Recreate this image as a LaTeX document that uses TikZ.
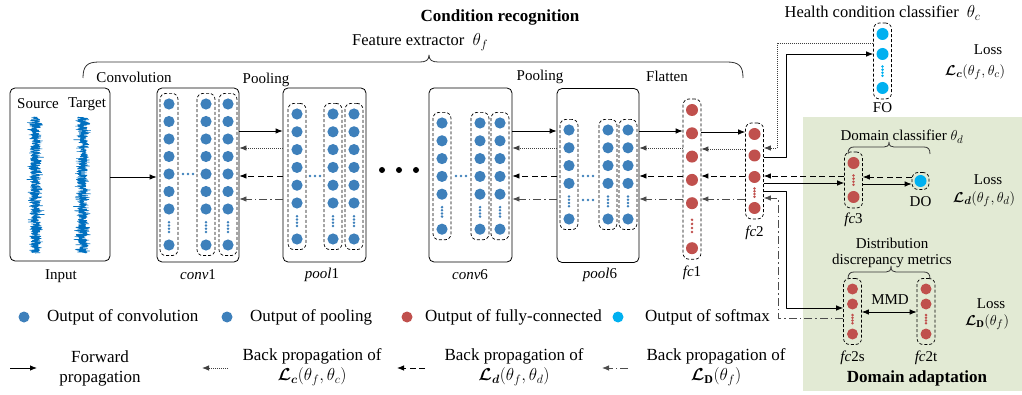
\documentclass[tikz,border=0pt]{standalone}
\usepackage{amsmath}
\usepackage{fontspec}
\setmainfont{Liberation Serif}
\usetikzlibrary{arrows.meta}

\definecolor{nnblue}{RGB}{62,128,187}
\definecolor{nnred}{RGB}{192,80,77}
\definecolor{nncyan}{RGB}{0,176,240}
\definecolor{wavec}{RGB}{0,112,192}
\definecolor{dagreen}{RGB}{226,234,212}

\newcommand{\fsm}{\fontsize{15}{17}\selectfont}
\newcommand{\fmd}{\fontsize{16.5}{19}\selectfont}
\newcommand{\flg}{\fontsize{17}{20}\selectfont}
\newcommand{\lossC}{\boldsymbol{\mathcal{L}}_{\boldsymbol{c}}}
\newcommand{\lossDc}{\boldsymbol{\mathcal{L}}_{\boldsymbol{d}}}
\newcommand{\lossDA}{\boldsymbol{\mathcal{L}}_{\mathbf{D}}}

% one column of neurons: name, x, first y, count, spacing, gap to last, colour, radius
\newcommand{\nncol}[8]{%
  \pgfmathsetmacro{\cYl}{#3+(#4-1)*#5}%
  \pgfmathsetmacro{\cYe}{\cYl+#6}%
  \pgfmathsetmacro{\cYm}{(#3+\cYe)/2}%
  \pgfmathsetmacro{\cHh}{\cYe-#3+2*#8+10}%
  \foreach \k in {1,...,#4}{\fill[#7] (#2,{#3+(\k-1)*#5}) circle[radius=#8];}%
  \foreach \f in {0.37,0.46,0.55,0.64}{\fill[#7] (#2,{\cYl+\f*#6}) circle[radius=1.4];}%
  \fill[#7] (#2,\cYe) circle[radius=#8];%
  \node[colbox, minimum height=\cHh pt] (#1) at (#2,\cYm) {};%
}
% three small dots in a row
\newcommand{\rowdots}[3]{\foreach \dx in {-5,0,5}{\fill[#3] (#1+\dx,#2) circle[radius=1.4];}}

\begin{document}
\begin{tikzpicture}[x=1pt,y=-1pt, line join=round,
  every node/.style={inner sep=0pt},
  frame/.style={draw, line width=0.8pt, rounded corners=5pt},
  colbox/.style={draw, line width=0.7pt, rounded corners=6pt, dash pattern=on 3pt off 2pt, minimum width=18pt},
  fwd/.style={line width=0.8pt, -{Latex[length=7pt,width=5.5pt]}},
  bpc/.style={fwd, black!75, dash pattern=on 1pt off 1pt},
  bpd/.style={fwd, dash pattern=on 6pt off 3.5pt},
  bpD/.style={fwd, black!70, dash pattern=on 8pt off 3pt on 1.5pt off 3pt},
  lbl/.style={font=\fsm},
  big/.style={font=\flg},
  wave/.style={wavec, line width=0.6pt},
  curly/.style={line width=0.8pt, black!80}]
\useasboundingbox (0,0) rectangle (1022,395);

% domain adaptation panel
\fill[dagreen] (803,117) rectangle (1022,391);

% titles and braces
\node[font=\flg\bfseries] at (500,17) {Condition recognition};
\node[font=\fmd, anchor=west] at (352,42) {Feature extractor~~$\theta_f$};
\draw[curly] (83,78) .. controls (83,66) and (87,62) .. (99,62) -- (420,62)
  .. controls (426,62) and (429,60) .. (429,55) .. controls (429,60) and (432,62) .. (438,62)
  -- (727,62) .. controls (739,62) and (743,66) .. (743,78);
\node[lbl] at (134,77) {Convolution};
\node[lbl] at (266,80) {Pooling};
\node[lbl] at (540,77) {Pooling};
\node[lbl] at (667,76) {Flatten};

% input signals
\node[frame, minimum width=100pt, minimum height=173pt] (input) at (60,174.5) {};
\node[lbl] at (38,104) {Source};
\node[lbl] at (87,104) {Target};
\pgfmathsetseed{11}
\draw[wave] plot[variable=\t, domain=117:253, samples=700] ({35.5+(4.5+6*rnd*rnd)*rand},{\t});
\draw[wave] plot[variable=\t, domain=117:253, samples=700] ({82.5+(4.5+6*rnd*rnd)*rand},{\t});
\node[lbl] at (61,276) {Input};

% convolution / pooling blocks
\node[frame, minimum width=82pt, minimum height=174pt] (conv1) at (198,175) {};
\node[frame, minimum width=83pt, minimum height=174pt] (pool1) at (324.5,175) {};
\node[frame, minimum width=83pt, minimum height=174pt] (conv6) at (470.5,175) {};
\node[frame, minimum width=82pt, minimum height=174pt] (pool6) at (598,175.5) {};

\nncol{c1a}{169}{104}{7}{17.5}{36}{nnblue}{5.6}
\nncol{c1b}{206}{104}{7}{17.5}{36}{nnblue}{5.6}
\nncol{c1c}{228}{104}{7}{17.5}{36}{nnblue}{5.6}
\rowdots{188}{174}{nnblue}

\nncol{p1a}{297}{114}{6}{17.8}{36}{nnblue}{5.6}
\nncol{p1b}{333}{114}{6}{17.8}{36}{nnblue}{5.6}
\nncol{p1c}{354}{114}{6}{17.8}{36}{nnblue}{5.6}
\rowdots{315}{176}{nnblue}

\nncol{c6a}{442}{123}{5}{17.8}{35}{nnblue}{5.6}
\nncol{c6b}{480}{123}{5}{17.8}{35}{nnblue}{5.6}
\nncol{c6c}{500}{123}{5}{17.8}{35}{nnblue}{5.6}
\rowdots{461}{176}{nnblue}

\nncol{p6a}{569}{130}{4}{17.8}{35.6}{nnblue}{5.6}
\nncol{p6b}{608}{130}{4}{17.8}{35.6}{nnblue}{5.6}
\nncol{p6c}{628}{130}{4}{17.8}{35.6}{nnblue}{5.6}
\rowdots{588}{176}{nnblue}
\rowdots{588}{200}{nnblue}

\fill (382,170) circle[radius=3] (399,170) circle[radius=3] (416,170) circle[radius=3];

\node[lbl] at (198,275) {\textit{conv}1};
\node[lbl] at (322,275) {\textit{pool}1};
\node[lbl] at (470,275) {\textit{conv}6};
\node[lbl] at (600,275) {\textit{pool}6};

% fully-connected layers and heads
\nncol{fc1}{692}{110}{5}{23.3}{45}{nnred}{6}
\nncol{fc2}{754.5}{134}{3}{21.5}{31}{nnred}{6}
\nncol{fc3}{853.5}{163}{1}{0}{34}{nnred}{6}
\nncol{FO}{882.5}{34}{2}{20}{34}{nncyan}{6}
\nncol{fcs}{852.5}{289}{2}{15}{30}{nnred}{5.5}
\nncol{fct}{926}{289}{2}{15}{30}{nnred}{5.5}
\node[colbox, minimum width=17pt, minimum height=17pt] (DO) at (920.5,181) {};
\fill[nncyan] (DO.center) circle[radius=6];

\node[lbl] at (692,273) {\textit{fc}1};
\node[lbl] at (754.5,233) {\textit{fc}2};
\node[lbl] at (853.5,220) {\textit{fc}3};
\node[lbl] at (882.5,108) {FO};
\node[lbl] at (920.5,202) {DO};
\node[lbl] at (852.5,358) {\textit{fc}2s};
\node[lbl] at (926,358) {\textit{fc}2t};

% forward and backward flows through the extractor
\draw[fwd] (input.east |- 0,177) -- (conv1.west |- 0,177);
\foreach \a/\b in {conv1/pool1, conv6/pool6, pool6/fc1}{
  \draw[fwd] (\a.east |- 0,131) -- (\b.west |- 0,131);
  \draw[bpc] (\b.west |- 0,148) -- (\a.east |- 0,148);
  \draw[bpd] (\b.west |- 0,176) -- (\a.east |- 0,176);
  \draw[bpD] (\b.west |- 0,199) -- (\a.east |- 0,199);
}
\draw[fwd] (fc1.east |- 0,132) -- (fc2.west |- 0,132);
\draw[bpc] (fc2.west |- 0,149) -- (fc1.east |- 0,149);
\draw[bpd] (fc2.west |- 0,176) -- (fc1.east |- 0,176);
\draw[bpD] (fc2.west |- 0,199) -- (fc1.east |- 0,199);

% health condition classifier
\node[font=\fmd] at (882.5,13) {Health condition classifier~~$\theta_c$};
\draw[fwd] (fc2.east |- 0,157) -| (786,54) -- (FO.west |- 0,54);
\draw[bpc] (FO.west |- 0,43) -| (777,148) -- (fc2.east |- 0,148);
\node[lbl] at (988,50) {Loss};
\node[lbl] at (975,72) {$\lossC(\theta_f,\theta_c)$};

% domain classifier
\node[lbl] at (902,137) {Domain classifier~$\theta_d$};
\draw[curly] (848,154) .. controls (848,149) and (850,147) .. (854,147) -- (884,147)
  .. controls (887,147) and (889,146) .. (889,142) .. controls (889,146) and (891,147) .. (894,147)
  -- (924,147) .. controls (928,147) and (930,149) .. (930,154);
\draw[bpd] (fc3.west |- 0,176) -- (fc2.east |- 0,176);
\draw[fwd] (fc2.east |- 0,183) -- (fc3.west |- 0,183);
\draw[fwd] (fc3.east |- 0,184) -- (DO.west |- 0,184);
\draw[bpd] (DO.west |- 0,177) -- (fc3.east |- 0,177);
\node[lbl] at (988,180) {Loss};
\node[lbl] at (984,199) {$\lossDc(\theta_f,\theta_d)$};

% distribution discrepancy
\node[lbl, align=center, font=\fontsize{15}{16}\selectfont] at (892,253) {Distribution\\discrepancy metrics};
\draw[curly] (848,279) .. controls (848,274) and (850,272) .. (854,272) -- (886,272)
  .. controls (889,272) and (891,271) .. (891,266) .. controls (891,271) and (893,272) .. (896,272)
  -- (924,272) .. controls (928,272) and (930,274) .. (930,279);
\draw[fwd] (fc2.east |- 0,191) -| (786,308) -- (fcs.west |- 0,308);
\draw[bpD] (fcs.west |- 0,318) -| (778,198) -- (fc2.east |- 0,198);
\draw[line width=0.8pt, {Latex[length=7pt,width=5.5pt]}-{Latex[length=7pt,width=5.5pt]}] (fcs.east |- 0,312) -- (fct.west |- 0,312);
\node[lbl] at (890,300) {MMD};
\node[lbl] at (991,304) {Loss};
\node[lbl] at (987,322) {$\lossDA(\theta_f)$};
\node[font=\flg\bfseries] at (917,378) {Domain adaptation};

% legend
\fill[nnblue] (24,317) circle[radius=5.5];
\node[big, anchor=west] at (47,317) {Output of convolution};
\fill[nnblue] (227,317) circle[radius=5.5];
\node[big, anchor=west] at (250,317) {Output of pooling};
\fill[nnred] (407,317) circle[radius=5.5];
\node[big, anchor=west] at (425,317) {Output of fully-connected};
\fill[nncyan] (618,317) circle[radius=5.5];
\node[big, anchor=west] at (645,317) {Output of softmax};

\coordinate (la1) at (10,368);  \coordinate (la2) at (37,368);
\coordinate (lb1) at (228,368); \coordinate (lb2) at (202,368);
\coordinate (lc1) at (425,368); \coordinate (lc2) at (397,368);
\coordinate (ld1) at (628,368); \coordinate (ld2) at (602,368);
\draw[fwd] (la1) -- (la2);
\draw[bpc] (lb1) -- (lb2);
\draw[bpd] (lc1) -- (lc2);
\draw[bpD] (ld1) -- (ld2);
\node[big, align=center] at (100,368) {Forward\\propagation};
\node[big, align=center] at (312,367) {Back propagation of\\$\lossC(\theta_f,\theta_c)$};
\node[big, align=center] at (514,367) {Back propagation of\\$\lossDc(\theta_f,\theta_d)$};
\node[big, align=center] at (716,367) {Back propagation of\\$\lossDA(\theta_f)$};
\end{tikzpicture}
\end{document}
